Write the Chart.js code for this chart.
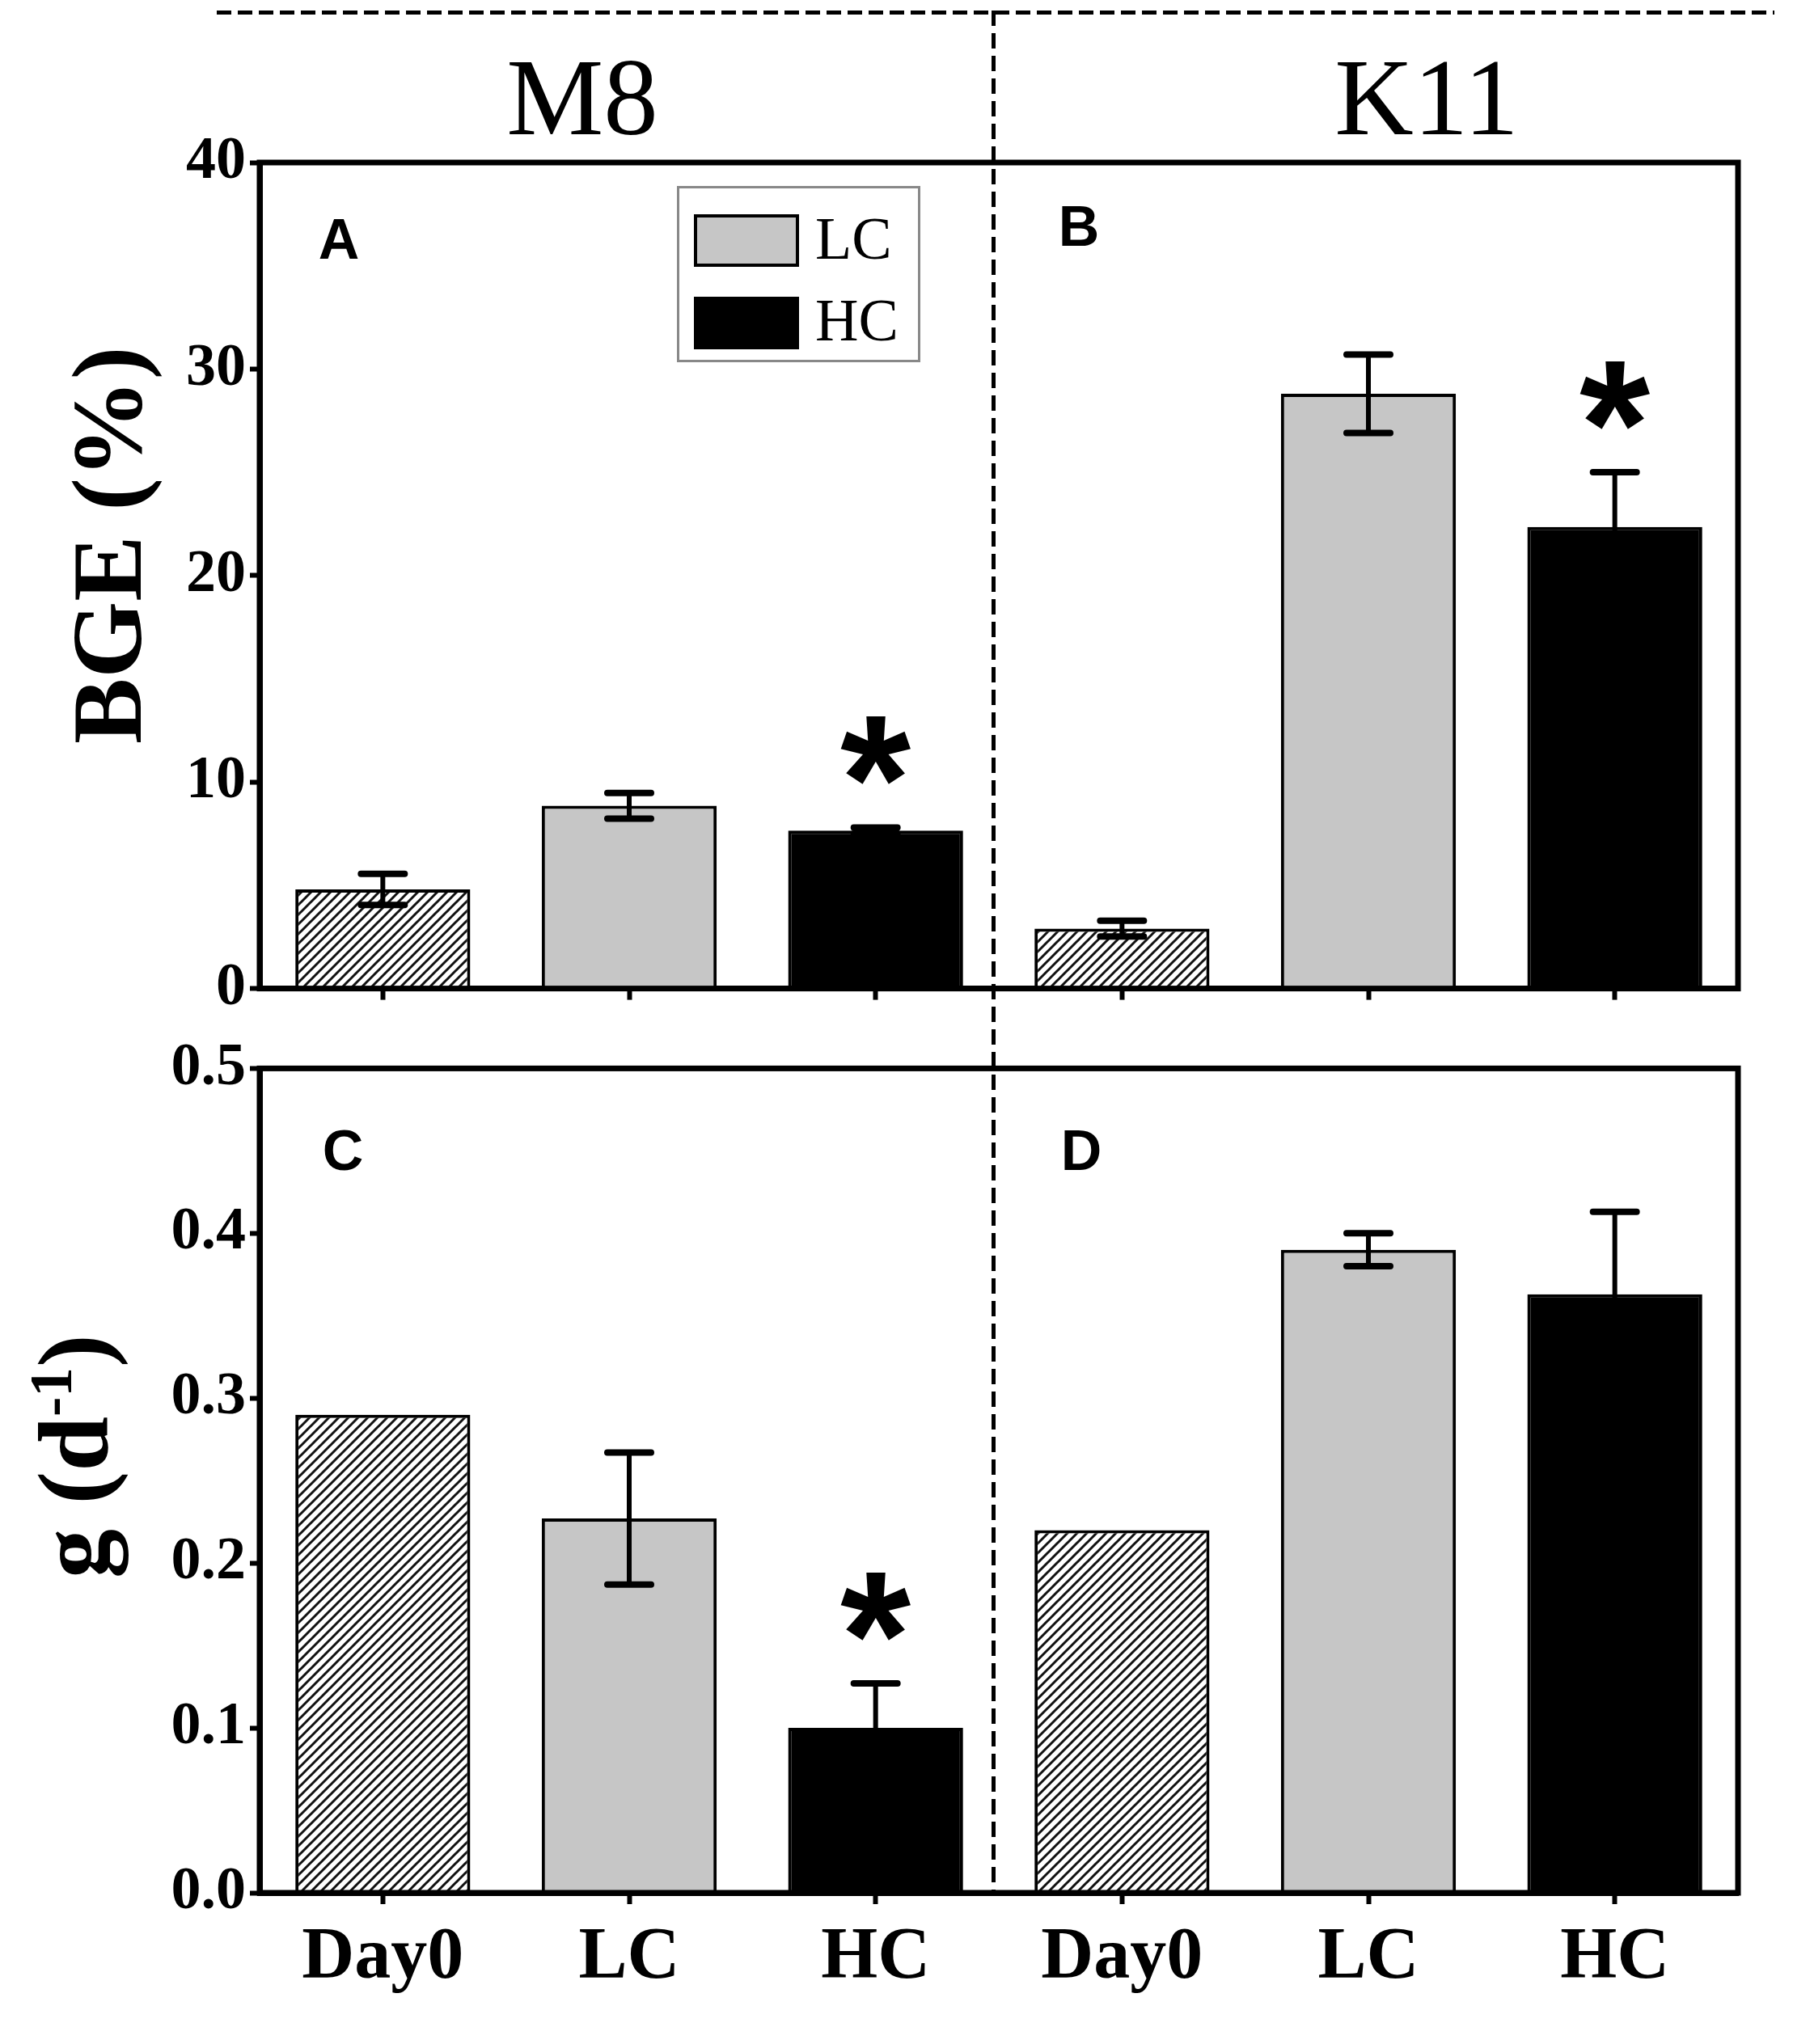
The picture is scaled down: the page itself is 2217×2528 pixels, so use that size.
<!DOCTYPE html>
<html>
<head>
<meta charset="utf-8">
<script src="https://cdn.jsdelivr.net/npm/chart.js@4.4.1/dist/chart.umd.min.js"></script>
<style>
  body { margin: 0; background: #fff; }
  #wrap { position: relative; width: 2217px; height: 2528px; overflow: hidden; font-family: "Liberation Serif", "Times New Roman", serif; color: #000; }
  canvas { position: absolute; left: 0; }
  .strain { position: absolute; font-size: 135px; line-height: 1; transform: translate(-50%, -50%); white-space: nowrap; }
  .panel { position: absolute; font-family: "Liberation Sans", Arial, sans-serif; font-weight: bold; font-size: 70px; line-height: 1; transform: translate(-50%, -50%); }
  .ytitle { position: absolute; font-weight: bold; font-size: 122px; line-height: 1; transform: rotate(-90deg); transform-origin: left top; white-space: nowrap; }
  .ytitle sup { font-size: 0.6em; vertical-align: 0.6em; line-height: 0; }
  .dash-h { position: absolute; height: 5px; background: repeating-linear-gradient(to right, #000 0 18px, transparent 18px 26px); }
  .dash-v { position: absolute; width: 5px; background: repeating-linear-gradient(to bottom, #000 0 19px, transparent 19px 28px); }
  #legend { position: absolute; left: 837px; top: 230px; width: 301px; height: 218px; box-sizing: border-box; border: 3px solid #888; background: #fff; }
  #legend .sw { position: absolute; left: 18px; width: 130px; height: 65px; box-sizing: border-box; border: 4px solid #000; }
  #legend .lab { position: absolute; left: 168px; font-size: 74px; line-height: 1; transform: translateY(-50%); }
</style>
</head>
<body>
<div id="wrap">
  <canvas id="bgeChart" width="2217" height="1272" style="top:0"></canvas>
  <canvas id="gChart" width="2217" height="1256" style="top:1272px"></canvas>

  <div class="dash-h" style="left:268px; top:13px; width:1926px;"></div>
  <div class="dash-v" style="left:1226px; top:13px; height:2327px;"></div>

  <div class="strain" style="left:720px; top:120px;">M8</div>
  <div class="strain" style="left:1764px; top:120px;">K11</div>

  <div class="panel" style="left:419px; top:296px;">A</div>
  <div class="panel" style="left:1334px; top:280px;">B</div>
  <div class="panel" style="left:424px; top:1423px;">C</div>
  <div class="panel" style="left:1337px; top:1423px;">D</div>

  <div class="ytitle" style="left:72px; top:920px;">BGE (%)</div>
  <div class="ytitle" style="left:30px; top:1952px;">g (d<sup>-1</sup>)</div>

  <div id="legend">
    <div class="sw" style="top:32px; background:#c6c6c6;"></div>
    <div class="lab" style="top:62px;">LC</div>
    <div class="sw" style="top:134px; background:#000;"></div>
    <div class="lab" style="top:163px;">HC</div>
  </div>
</div>

<script>
// --- dados ---
const categories = ['Day0', 'LC', 'HC', 'Day0', 'LC', 'HC'];

// painel A/B: BGE (%)
const bgeValues = [4.8, 8.85, 7.65, 2.9, 28.8, 22.35];
const bgeErrors = [0.75, 0.62, 0.15, 0.38, 1.9, 2.65];
const bgeStars = [false, false, true, false, false, true];
const bgeTicks = [0, 10, 20, 30, 40];

// painel C/D: g (d-1)
const gValues = [0.29, 0.227, 0.10, 0.22, 0.39, 0.363];
const gErrors = [0, 0.04, 0.027, 0, 0.01, 0.05];
const gStars = [false, false, true, false, false, false];
const gTicks = [0, 0.1, 0.2, 0.3, 0.4, 0.5];

Chart.defaults.color = '#000';
Chart.defaults.font.family = '"Liberation Serif", "Times New Roman", serif';

// hachura das barras Day0
function makeHatch() {
    const s = 12;
    const p = document.createElement('canvas');
    p.width = p.height = s;
    const c = p.getContext('2d');
    c.fillStyle = '#fff';
    c.fillRect(0, 0, s, s);
    c.strokeStyle = '#111';
    c.lineWidth = 3;
    c.beginPath();
    c.moveTo(0, s); c.lineTo(s, 0);
    c.moveTo(-s / 2, s / 2); c.lineTo(s / 2, -s / 2);
    c.moveTo(s / 2, s * 1.5); c.lineTo(s * 1.5, s / 2);
    c.stroke();
    return p.getContext('2d').createPattern(p, 'repeat');
}
const hatch = makeHatch();
const barFills = [hatch, '#c6c6c6', '#000', hatch, '#c6c6c6', '#000'];

// barras de erro + asteriscos
const errorBarPlugin = {
    id: 'errorBars',
    afterDatasetsDraw(chart, args, opts) {
        const ctx = chart.ctx;
        const y = chart.scales.y;
        const meta = chart.getDatasetMeta(0);
        const values = chart.data.datasets[0].data;
        ctx.save();
        ctx.strokeStyle = '#000';
        ctx.fillStyle = '#000';
        meta.data.forEach((bar, i) => {
            const e = opts.errors[i];
            if (!e) return;
            const top = y.getPixelForValue(values[i] + e);
            const low = y.getPixelForValue(values[i] - e);
            ctx.lineWidth = 6;
            ctx.lineCap = 'butt';
            ctx.beginPath();
            ctx.moveTo(bar.x, top);
            ctx.lineTo(bar.x, low);
            ctx.stroke();
            ctx.lineWidth = 8;
            ctx.lineCap = 'round';
            ctx.beginPath();
            ctx.moveTo(bar.x - 27, top); ctx.lineTo(bar.x + 27, top);
            ctx.moveTo(bar.x - 27, low); ctx.lineTo(bar.x + 27, low);
            ctx.stroke();
        });
        ctx.font = 'bold 200px "Liberation Sans", Arial, sans-serif';
        let m = ctx.measureText('*');
        const size = 200 * 84 / (m.actualBoundingBoxAscent + m.actualBoundingBoxDescent);
        ctx.font = 'bold ' + size + 'px "Liberation Sans", Arial, sans-serif';
        m = ctx.measureText('*');
        ctx.textAlign = 'center';
        ctx.textBaseline = 'alphabetic';
        meta.data.forEach((bar, i) => {
            if (!opts.stars[i]) return;
            const cy = y.getPixelForValue(values[i] + (opts.errors[i] || 0)) - 95;
            ctx.fillText('*', bar.x, cy + (m.actualBoundingBoxAscent - m.actualBoundingBoxDescent) / 2);
        });
        ctx.restore();
    }
};

// moldura em volta da área do gráfico
const framePlugin = {
    id: 'frame',
    afterDraw(chart) {
        const { ctx, chartArea: a } = chart;
        ctx.save();
        ctx.strokeStyle = '#000';
        ctx.lineWidth = 7;
        ctx.strokeRect(a.left, a.top, a.right - a.left, a.bottom - a.top);
        ctx.restore();
    }
};

function buildChart(id, values, errors, stars, tickValues, yMax, decimals, showX, padTop, xHeight) {
    return new Chart(document.getElementById(id), {
        type: 'bar',
        data: {
            labels: categories,
            datasets: [{
                data: values,
                backgroundColor: barFills,
                borderColor: '#000',
                borderWidth: 4,
                barPercentage: 0.71,
                categoryPercentage: 1
            }]
        },
        options: {
            responsive: false,
            animation: false,
            devicePixelRatio: 1,
            layout: { padding: { top: padTop, right: 68, left: 0, bottom: 0 } },
            plugins: {
                legend: { display: false },
                tooltip: { enabled: false },
                errorBars: { errors: errors, stars: stars }
            },
            scales: {
                x: {
                    grid: { drawOnChartArea: false, drawTicks: true, tickLength: 14, tickWidth: 6, tickColor: '#000', offset: false },
                    border: { display: true, width: 7, color: '#000' },
                    ticks: { display: showX, font: { size: 90, weight: 'bold' }, padding: 14, maxRotation: 0 },
                    afterFit: s => { s.height = xHeight; }
                },
                y: {
                    min: 0,
                    max: yMax,
                    afterBuildTicks: s => { s.ticks = tickValues.map(v => ({ value: v })); },
                    grid: { drawOnChartArea: false, drawTicks: true, tickLength: 12, tickWidth: 6, tickColor: '#000' },
                    border: { display: true, width: 7, color: '#000' },
                    ticks: { font: { size: 74, weight: 'bold' }, padding: 5, callback: v => Number(v).toFixed(decimals) },
                    afterFit: s => { s.width = 321; }
                }
            }
        },
        plugins: [errorBarPlugin, framePlugin]
    });
}

buildChart('bgeChart', bgeValues, bgeErrors, bgeStars, bgeTicks, 40, 0, false, 201, 48);
buildChart('gChart', gValues, gErrors, gStars, gTicks, 0.5, 1, true, 49, 187);
</script>
</body>
</html>
